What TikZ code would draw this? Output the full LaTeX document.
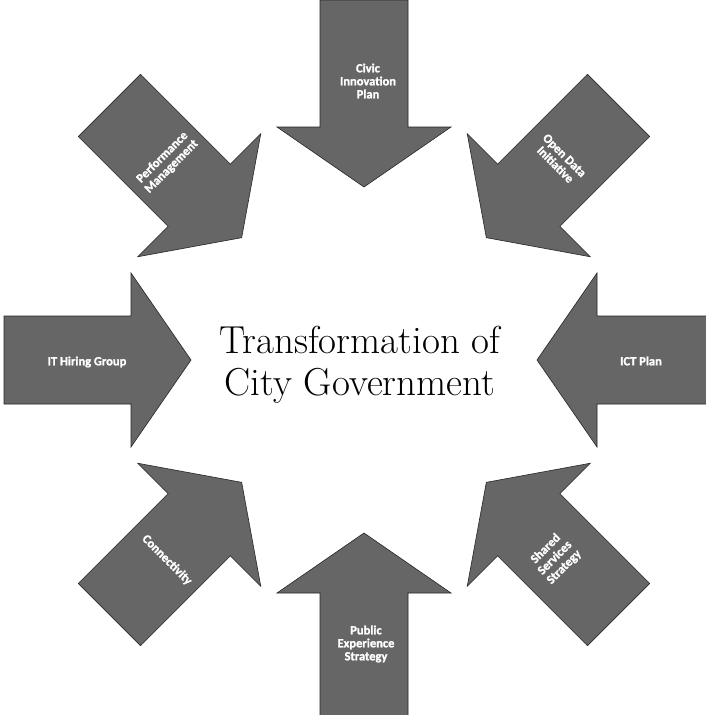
\documentclass[tikz,border=0pt]{standalone}
\usepackage{fontspec}
\newfontfamily\lblfont{Carlito}[BoldFont={Carlito Bold}, BoldFeatures={FakeBold=1.5}]
\begin{document}
\begin{tikzpicture}[x=1pt,y=-1pt,
  arrowfill/.style={fill=black!60, draw=black!85, line width=0.6pt, line join=miter},
  lbl/.style={text=white, font=\lblfont\bfseries\fontsize{12.5}{13}\selectfont, align=center, inner sep=0pt},
  inarrow/.pic={\path[arrowfill] (173,0) -- (233,87) -- (233,44) -- (360,44) -- (360,-44) -- (233,-44) -- (233,-87) -- cycle;}
]
\useasboundingbox (0,0) rectangle (706,715);
\clip (0,0) rectangle (706,715);
\fill[white] (0,0) rectangle (706,715);
\coordinate (c) at (364,360);
\foreach \a in {90,45,0,-45,-90,-135,180,135}{
  \pic[rotate=\a] at (c) {inarrow};
}
\node[lbl] (civic) at (368,81) {Civic\\Innovation\\Plan};
\node[lbl, rotate=-45] (open) at (560,160) {Open Data\\Initiative};
\node[lbl, rotate=45] (perf) at (167,162) {Performance\\Management};
\node[lbl] (hiring) at (87,362) {IT Hiring Group};
\node[lbl] (ict) at (641,361) {ICT Plan};
\node[lbl, rotate=-45] (conn) at (167,560) {Connectivity};
\node[lbl, rotate=45] (shared) at (555,558) {Shared\\Services\\Strategy};
\node[lbl] (public) at (366,644) {Public\\Experience\\Strategy};
\node[font=\fontsize{39}{42}\selectfont, align=center, inner sep=0pt] (title) at (360,365) {Transformation of\\City Government};
\end{tikzpicture}
\end{document}
